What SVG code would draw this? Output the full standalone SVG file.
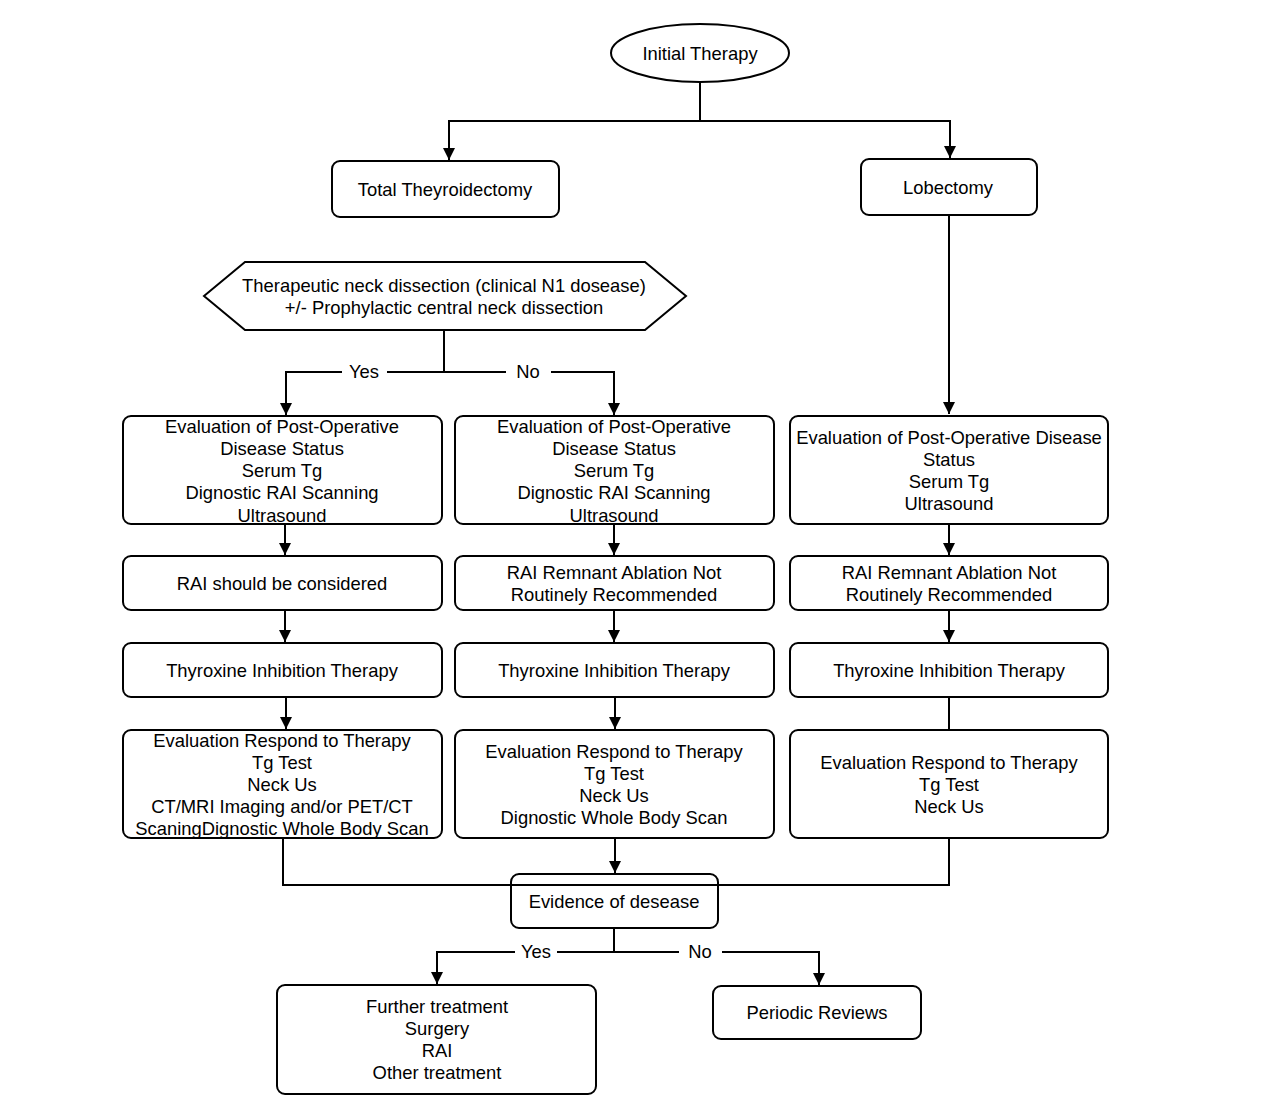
<svg xmlns="http://www.w3.org/2000/svg" width="1269" height="1113" viewBox="0 0 1269 1113">
<style>
.n{fill:#fff;stroke:#000;stroke-width:2}
.t{font-family:"Liberation Sans",Arial,sans-serif;font-size:18.4px;fill:#000;text-anchor:middle;dominant-baseline:central}
.c{fill:none;stroke:#000;stroke-width:2}
</style>
<defs>
<marker id="a" viewBox="0 0 10 10" refX="10" refY="5" markerWidth="14" markerHeight="12" markerUnits="userSpaceOnUse" orient="auto"><path d="M0,0L10,5L0,10z" fill="#000"/></marker>
</defs>
<rect width="1269" height="1113" fill="#fff"/>
<g id="n_init"><ellipse class="n" cx="700" cy="53" rx="89" ry="29"/><text class="t" x="700" y="53">Initial Therapy</text></g>
<g id="n_total"><rect class="n" x="332" y="161" width="227" height="56" rx="8"/><text class="t" x="445" y="189">Total Theyroidectomy</text></g>
<g id="n_lob"><rect class="n" x="861" y="159" width="176" height="56" rx="8"/><text class="t" x="948" y="187">Lobectomy</text></g>
<g id="n_hex"><polygon class="n" points="204,296 245,262 645,262 686,296 645,330 245,330"/><text class="t" x="444" y="285">Therapeutic neck dissection (clinical N1 dosease)</text><text class="t" x="444" y="307">+/- Prophylactic central neck dissection</text></g>
<g id="n_eval1"><rect class="n" x="123" y="416" width="319" height="108" rx="8"/><text class="t" x="282" y="426">Evaluation of Post-Operative</text><text class="t" x="282" y="448">Disease Status</text><text class="t" x="282" y="470">Serum Tg</text><text class="t" x="282" y="492">Dignostic RAI Scanning</text><text class="t" x="282" y="515">Ultrasound</text></g>
<g id="n_eval2"><rect class="n" x="455" y="416" width="319" height="108" rx="8"/><text class="t" x="614" y="426">Evaluation of Post-Operative</text><text class="t" x="614" y="448">Disease Status</text><text class="t" x="614" y="470">Serum Tg</text><text class="t" x="614" y="492">Dignostic RAI Scanning</text><text class="t" x="614" y="515">Ultrasound</text></g>
<g id="n_eval3"><rect class="n" x="790" y="416" width="318" height="108" rx="8"/><text class="t" x="949" y="437">Evaluation of Post-Operative Disease</text><text class="t" x="949" y="459">Status</text><text class="t" x="949" y="481">Serum Tg</text><text class="t" x="949" y="503">Ultrasound</text></g>
<g id="n_rai1"><rect class="n" x="123" y="556" width="319" height="54" rx="8"/><text class="t" x="282" y="583">RAI should be considered</text></g>
<g id="n_rai2"><rect class="n" x="455" y="556" width="319" height="54" rx="8"/><text class="t" x="614" y="572">RAI Remnant Ablation Not</text><text class="t" x="614" y="594">Routinely Recommended</text></g>
<g id="n_rai3"><rect class="n" x="790" y="556" width="318" height="54" rx="8"/><text class="t" x="949" y="572">RAI Remnant Ablation Not</text><text class="t" x="949" y="594">Routinely Recommended</text></g>
<g id="n_thy1"><rect class="n" x="123" y="643" width="319" height="54" rx="8"/><text class="t" x="282" y="670">Thyroxine Inhibition Therapy</text></g>
<g id="n_thy2"><rect class="n" x="455" y="643" width="319" height="54" rx="8"/><text class="t" x="614" y="670">Thyroxine Inhibition Therapy</text></g>
<g id="n_thy3"><rect class="n" x="790" y="643" width="318" height="54" rx="8"/><text class="t" x="949" y="670">Thyroxine Inhibition Therapy</text></g>
<g id="n_resp1"><rect class="n" x="123" y="730" width="319" height="108" rx="8"/><text class="t" x="282" y="740">Evaluation Respond to Therapy</text><text class="t" x="282" y="762">Tg Test</text><text class="t" x="282" y="784">Neck Us</text><text class="t" x="282" y="806">CT/MRI Imaging and/or PET/CT</text><text class="t" x="282" y="828">ScaningDignostic Whole Body Scan</text></g>
<g id="n_resp2"><rect class="n" x="455" y="730" width="319" height="108" rx="8"/><text class="t" x="614" y="751">Evaluation Respond to Therapy</text><text class="t" x="614" y="773">Tg Test</text><text class="t" x="614" y="795">Neck Us</text><text class="t" x="614" y="817">Dignostic Whole Body Scan</text></g>
<g id="n_resp3"><rect class="n" x="790" y="730" width="318" height="108" rx="8"/><text class="t" x="949" y="762">Evaluation Respond to Therapy</text><text class="t" x="949" y="784">Tg Test</text><text class="t" x="949" y="806">Neck Us</text></g>
<g id="n_evid"><rect class="n" x="511" y="874" width="207" height="54" rx="8"/><text class="t" x="614" y="901">Evidence of desease</text></g>
<g id="n_further"><rect class="n" x="277" y="985" width="319" height="109" rx="8"/><text class="t" x="437" y="1006">Further treatment</text><text class="t" x="437" y="1028">Surgery</text><text class="t" x="437" y="1050">RAI</text><text class="t" x="437" y="1072">Other treatment</text></g>
<g id="n_periodic"><rect class="n" x="713" y="986" width="208" height="53" rx="8"/><text class="t" x="817" y="1012">Periodic Reviews</text></g>
<g id="connectors">
<path class="c" d="M700,82V121"/>
<path class="c" d="M700,121H449V160" marker-end="url(#a)"/>
<path class="c" d="M700,121H950V158" marker-end="url(#a)"/>
<path class="c" d="M949,215V414" marker-end="url(#a)"/>
<path class="c" d="M444,330V372"/>
<path class="c" d="M444,372H387M342,372H286V415" marker-end="url(#a)"/>
<path class="c" d="M444,372H506M551,372H614V415" marker-end="url(#a)"/>
<text class="t" x="364" y="371">Yes</text>
<text class="t" x="528" y="371">No</text>
<path class="c" d="M285,524V555" marker-end="url(#a)"/>
<path class="c" d="M614,524V555" marker-end="url(#a)"/>
<path class="c" d="M949,524V555" marker-end="url(#a)"/>
<path class="c" d="M285,610V642" marker-end="url(#a)"/>
<path class="c" d="M614,610V642" marker-end="url(#a)"/>
<path class="c" d="M949,610V642" marker-end="url(#a)"/>
<path class="c" d="M286,697V729" marker-end="url(#a)"/>
<path class="c" d="M615,697V729" marker-end="url(#a)"/>
<path class="c" d="M949,697V730"/>
<path class="c" d="M283,838V885H949V838"/>
<path class="c" d="M615,838V873" marker-end="url(#a)"/>
<path class="c" d="M614,928V952"/>
<path class="c" d="M614,952H557M515,952H437V984" marker-end="url(#a)"/>
<path class="c" d="M614,952H679M722,952H819V985" marker-end="url(#a)"/>
<text class="t" x="536" y="951">Yes</text>
<text class="t" x="700" y="951">No</text>
</g>
</svg>
